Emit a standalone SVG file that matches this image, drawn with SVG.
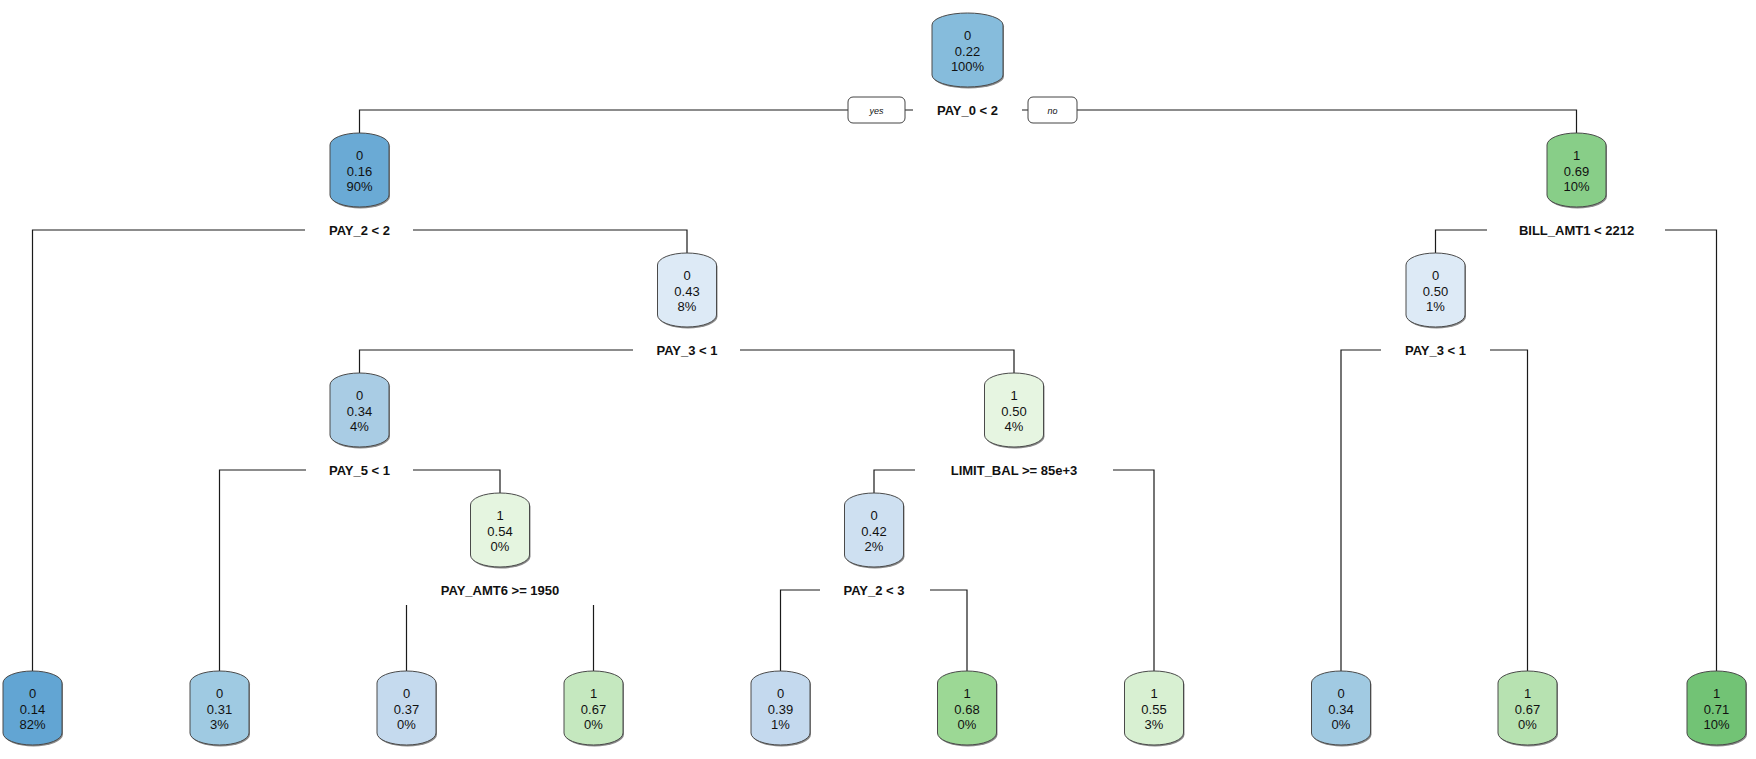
<svg xmlns="http://www.w3.org/2000/svg" xmlns:xlink="http://www.w3.org/1999/xlink" width="1756" height="759" viewBox="0 0 1756 759">
<style>
.bg{fill:#ffffff}
.nt{font-family:"Liberation Sans",Arial,sans-serif;font-size:13px;fill:#111;text-anchor:middle}
.lb{font-family:"Liberation Sans",Arial,sans-serif;font-size:13px;font-weight:bold;fill:#111;text-anchor:middle}
.yn{font-family:"Liberation Sans",Arial,sans-serif;font-size:9px;font-style:italic;fill:#111;text-anchor:middle}
.ynbox{fill:#ffffff;stroke:#444;stroke-width:1}
.cn{fill:none;stroke:#1a1a1a;stroke-width:1.2}
.sh{fill:#8a8a8a}
.bx{stroke:#4a4a4a;stroke-width:1}
</style>
<defs>
<path id="cyl" d="M-29.5,12 A29.5,12 0 0 1 29.5,12 L29.5,62 A29.5,12 0 0 1 -29.5,62 Z"/>
<path id="cylw" d="M-35.5,12 A35.5,12 0 0 1 35.5,12 L35.5,62 A35.5,12 0 0 1 -35.5,62 Z"/>
</defs>
<rect class="bg" x="0" y="0" width="1756" height="759"/>

<g id="connectors">
<!-- root split -->
<path class="cn" d="M913,110 H359.5 V133"/>
<path class="cn" d="M1022,110 H1576.5 V133"/>
<!-- PAY_2 < 2 -->
<path class="cn" d="M305,230 H32.5 V671"/>
<path class="cn" d="M413,230 H687 V253"/>
<!-- BILL_AMT1 < 2212 -->
<path class="cn" d="M1487,230 H1435.5 V253"/>
<path class="cn" d="M1665,230 H1716.5 V671"/>
<!-- PAY_3 < 1 left -->
<path class="cn" d="M633,350 H359.5 V373"/>
<path class="cn" d="M740,350 H1014 V373"/>
<!-- PAY_3 < 1 right -->
<path class="cn" d="M1381,350 H1341 V671"/>
<path class="cn" d="M1490,350 H1527.5 V671"/>
<!-- PAY_5 < 1 -->
<path class="cn" d="M306,470 H219.5 V671"/>
<path class="cn" d="M413,470 H500 V493"/>
<!-- LIMIT_BAL -->
<path class="cn" d="M915,470 H874 V493"/>
<path class="cn" d="M1113,470 H1154 V671"/>
<!-- PAY_AMT6 -->
<path class="cn" d="M406.5,605 V671"/>
<path class="cn" d="M593.5,605 V671"/>
<!-- PAY_2 < 3 -->
<path class="cn" d="M820,590 H780.5 V671"/>
<path class="cn" d="M930,590 H967 V671"/>
<!-- yes / no -->
<rect class="ynbox" x="848" y="97" width="57" height="26" rx="5"/>
<text class="yn" x="876.5" y="113.5">yes</text>
<rect class="ynbox" x="1028" y="97" width="49" height="26" rx="5"/>
<text class="yn" x="1052.5" y="113.5">no</text>
</g>

<g id="split-labels">
<text class="lb" x="967.5" y="114.5">PAY_0 &lt; 2</text>
<text class="lb" x="359.5" y="234.5">PAY_2 &lt; 2</text>
<text class="lb" x="1576.5" y="234.5">BILL_AMT1 &lt; 2212</text>
<text class="lb" x="687" y="354.5">PAY_3 &lt; 1</text>
<text class="lb" x="1435.5" y="354.5">PAY_3 &lt; 1</text>
<text class="lb" x="359.5" y="474.5">PAY_5 &lt; 1</text>
<text class="lb" x="1014" y="474.5">LIMIT_BAL &gt;= 85e+3</text>
<text class="lb" x="500" y="594.5">PAY_AMT6 &gt;= 1950</text>
<text class="lb" x="874" y="594.5">PAY_2 &lt; 3</text>
</g>

<g id="n1">
<use href="#cylw" x="968.5" y="14.5" class="sh"/>
<use href="#cylw" x="967.5" y="13" class="bx" fill="#86bcdc"/>
<text class="nt" x="967.5" y="40">0</text><text class="nt" x="967.5" y="55.5">0.22</text><text class="nt" x="967.5" y="71">100%</text>
</g>
<g id="n2">
<use href="#cyl" x="360.5" y="134.5" class="sh"/>
<use href="#cyl" x="359.5" y="133" class="bx" fill="#6aaad5"/>
<text class="nt" x="359.5" y="160">0</text><text class="nt" x="359.5" y="175.5">0.16</text><text class="nt" x="359.5" y="191">90%</text>
</g>
<g id="n3">
<use href="#cyl" x="1577.5" y="134.5" class="sh"/>
<use href="#cyl" x="1576.5" y="133" class="bx" fill="#88ce88"/>
<text class="nt" x="1576.5" y="160">1</text><text class="nt" x="1576.5" y="175.5">0.69</text><text class="nt" x="1576.5" y="191">10%</text>
</g>
<g id="n5">
<use href="#cyl" x="688" y="254.5" class="sh"/>
<use href="#cyl" x="687" y="253" class="bx" fill="#ddeaf6"/>
<text class="nt" x="687" y="280">0</text><text class="nt" x="687" y="295.5">0.43</text><text class="nt" x="687" y="311">8%</text>
</g>
<g id="n6">
<use href="#cyl" x="1436.5" y="254.5" class="sh"/>
<use href="#cyl" x="1435.5" y="253" class="bx" fill="#ddeaf6"/>
<text class="nt" x="1435.5" y="280">0</text><text class="nt" x="1435.5" y="295.5">0.50</text><text class="nt" x="1435.5" y="311">1%</text>
</g>
<g id="n10">
<use href="#cyl" x="360.5" y="374.5" class="sh"/>
<use href="#cyl" x="359.5" y="373" class="bx" fill="#a9cce4"/>
<text class="nt" x="359.5" y="400">0</text><text class="nt" x="359.5" y="415.5">0.34</text><text class="nt" x="359.5" y="431">4%</text>
</g>
<g id="n11">
<use href="#cyl" x="1015" y="374.5" class="sh"/>
<use href="#cyl" x="1014" y="373" class="bx" fill="#e6f5e1"/>
<text class="nt" x="1014" y="400">1</text><text class="nt" x="1014" y="415.5">0.50</text><text class="nt" x="1014" y="431">4%</text>
</g>
<g id="n21">
<use href="#cyl" x="501" y="494.5" class="sh"/>
<use href="#cyl" x="500" y="493" class="bx" fill="#e5f5e0"/>
<text class="nt" x="500" y="520">1</text><text class="nt" x="500" y="535.5">0.54</text><text class="nt" x="500" y="551">0%</text>
</g>
<g id="n22">
<use href="#cyl" x="875" y="494.5" class="sh"/>
<use href="#cyl" x="874" y="493" class="bx" fill="#cee0f1"/>
<text class="nt" x="874" y="520">0</text><text class="nt" x="874" y="535.5">0.42</text><text class="nt" x="874" y="551">2%</text>
</g>

<g id="leaf1">
<use href="#cyl" x="33.5" y="672.5" class="sh"/>
<use href="#cyl" x="32.5" y="671" class="bx" fill="#62a5d3"/>
<text class="nt" x="32.5" y="698">0</text><text class="nt" x="32.5" y="713.5">0.14</text><text class="nt" x="32.5" y="729">82%</text>
</g>
<g id="leaf2">
<use href="#cyl" x="220.5" y="672.5" class="sh"/>
<use href="#cyl" x="219.5" y="671" class="bx" fill="#9fcae2"/>
<text class="nt" x="219.5" y="698">0</text><text class="nt" x="219.5" y="713.5">0.31</text><text class="nt" x="219.5" y="729">3%</text>
</g>
<g id="leaf3">
<use href="#cyl" x="407.5" y="672.5" class="sh"/>
<use href="#cyl" x="406.5" y="671" class="bx" fill="#c5daee"/>
<text class="nt" x="406.5" y="698">0</text><text class="nt" x="406.5" y="713.5">0.37</text><text class="nt" x="406.5" y="729">0%</text>
</g>
<g id="leaf4">
<use href="#cyl" x="594.5" y="672.5" class="sh"/>
<use href="#cyl" x="593.5" y="671" class="bx" fill="#c5e8bf"/>
<text class="nt" x="593.5" y="698">1</text><text class="nt" x="593.5" y="713.5">0.67</text><text class="nt" x="593.5" y="729">0%</text>
</g>
<g id="leaf5">
<use href="#cyl" x="781.5" y="672.5" class="sh"/>
<use href="#cyl" x="780.5" y="671" class="bx" fill="#c4d9ee"/>
<text class="nt" x="780.5" y="698">0</text><text class="nt" x="780.5" y="713.5">0.39</text><text class="nt" x="780.5" y="729">1%</text>
</g>
<g id="leaf6">
<use href="#cyl" x="968" y="672.5" class="sh"/>
<use href="#cyl" x="967" y="671" class="bx" fill="#9cd895"/>
<text class="nt" x="967" y="698">1</text><text class="nt" x="967" y="713.5">0.68</text><text class="nt" x="967" y="729">0%</text>
</g>
<g id="leaf7">
<use href="#cyl" x="1155" y="672.5" class="sh"/>
<use href="#cyl" x="1154" y="671" class="bx" fill="#d8f0d2"/>
<text class="nt" x="1154" y="698">1</text><text class="nt" x="1154" y="713.5">0.55</text><text class="nt" x="1154" y="729">3%</text>
</g>
<g id="leaf8">
<use href="#cyl" x="1342" y="672.5" class="sh"/>
<use href="#cyl" x="1341" y="671" class="bx" fill="#a1cae2"/>
<text class="nt" x="1341" y="698">0</text><text class="nt" x="1341" y="713.5">0.34</text><text class="nt" x="1341" y="729">0%</text>
</g>
<g id="leaf9">
<use href="#cyl" x="1528.5" y="672.5" class="sh"/>
<use href="#cyl" x="1527.5" y="671" class="bx" fill="#b7e2b1"/>
<text class="nt" x="1527.5" y="698">1</text><text class="nt" x="1527.5" y="713.5">0.67</text><text class="nt" x="1527.5" y="729">0%</text>
</g>
<g id="leaf10">
<use href="#cyl" x="1717.5" y="672.5" class="sh"/>
<use href="#cyl" x="1716.5" y="671" class="bx" fill="#72c375"/>
<text class="nt" x="1716.5" y="698">1</text><text class="nt" x="1716.5" y="713.5">0.71</text><text class="nt" x="1716.5" y="729">10%</text>
</g>
</svg>
